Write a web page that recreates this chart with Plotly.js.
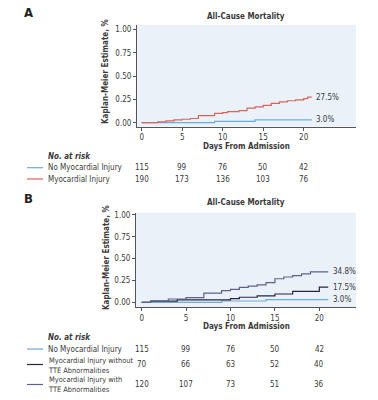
<!DOCTYPE html>
<html><head><meta charset="utf-8">
<script src="https://cdn.plot.ly/plotly-3.0.1.min.js"></script>
<style>html,body{margin:0;padding:0;background:#fff}#chart{width:378px;height:400px}</style>
</head><body><div id="chart"></div>
<script>
// Panel A
const aNoInjuryDays = [0, 9, 14, 21];
const aNoInjury = [0, 0.015, 0.03, 0.03];
const aInjuryDays = [0, 2, 3, 4, 5, 6, 7, 9, 10, 10.6, 12, 13, 14, 15, 16, 17, 18, 19, 20, 20.5, 21];
const aInjury = [0, 0.008, 0.02, 0.03, 0.037, 0.045, 0.075, 0.1, 0.108, 0.118, 0.13, 0.157, 0.17, 0.185, 0.207, 0.222, 0.235, 0.245, 0.258, 0.275, 0.275];
// Panel B
const bNoInjuryDays = [0, 9, 14, 21];
const bNoInjury = [0, 0.015, 0.03, 0.03];
const bWithoutTTEDays = [0, 1, 4, 10, 11, 13, 15, 17, 20, 21];
const bWithoutTTE = [0, 0.014, 0.028, 0.043, 0.058, 0.073, 0.095, 0.126, 0.175, 0.175];
const bWithTTEDays = [0, 1, 3, 5, 7, 9, 10, 11, 12, 13, 14, 15, 16, 17, 18, 19, 21];
const bWithTTE = [0, 0.015, 0.038, 0.053, 0.106, 0.133, 0.148, 0.172, 0.185, 0.2, 0.225, 0.27, 0.29, 0.305, 0.325, 0.348, 0.348];

const riskDays = [0, 5, 10, 15, 20];
const aRiskNoInjury = [115, 99, 76, 50, 42];
const aRiskInjury = [190, 173, 136, 103, 76];
const bRiskNoInjury = [115, 99, 76, 50, 42];
const bRiskWithout = [70, 66, 63, 52, 40];
const bRiskWith = [120, 107, 73, 51, 36];

const aEndLabels = ['27.5%', '3.0%'];
const bEndLabels = ['34.8%', '17.5%', '3.0%'];

const FONT = 'Liberation Sans Narrow, DejaVu Sans Condensed, Arial Narrow, sans-serif';
const TXT = '#3a3a3a';
const FS = 8;
const cLightBlue = '#6aaed6', cRed = '#d8655c', cNavy = '#24273f', cSlate = '#5e618a';

const W = 378, H = 400;
const px = v => v / W, py = v => 1 - v / H;

function step(x, y, color, xa, ya, name) {
  return {x: x, y: y, type: 'scatter', mode: 'lines', line: {shape: 'hv', color: color, width: 1.2},
          xaxis: xa, yaxis: ya, name: name, showlegend: false, hoverinfo: 'skip'};
}
const data = [
  step(aNoInjuryDays, aNoInjury, cLightBlue, 'x', 'y', 'No Myocardial Injury'),
  step(aInjuryDays, aInjury, cRed, 'x', 'y', 'Myocardial Injury'),
  step(bNoInjuryDays, bNoInjury, cLightBlue, 'x2', 'y2', 'No Myocardial Injury'),
  step(bWithoutTTEDays, bWithoutTTE, cNavy, 'x2', 'y2', 'Myocardial Injury without TTE Abnormalities'),
  step(bWithTTEDays, bWithTTE, cSlate, 'x2', 'y2', 'Myocardial Injury with TTE Abnormalities')
];

const ann = [];
function t(text, x, y, opts) {
  ann.push(Object.assign({text: text, x: px(x), y: py(y), xref: 'paper', yref: 'paper', showarrow: false,
    xanchor: 'center', yanchor: 'middle', font: {family: FONT, size: FS, color: TXT}}, opts || {}));
}
// Panel letters and titles
t('<b>A</b>', 28, 13, {font: {family: FONT, size: 13, color: '#222'}});
t('<b>B</b>', 28, 198, {font: {family: FONT, size: 13, color: '#222'}});
t('<b>All-Cause Mortality</b>', 246, 16);
t('<b>All-Cause Mortality</b>', 246, 202.7);
t('<b>Kaplan-Meier Estimate, %</b>', 106, 72, {textangle: -90});
t('<b>Kaplan-Meier Estimate, %</b>', 106, 258, {textangle: -90});
t('<b>Days From Admission</b>', 246, 146.7);
t('<b>Days From Admission</b>', 246, 326.7);
// Risk tables
t('<b><i>No. at risk</i></b>', 45.5, 156.7, {xanchor: 'left'});
t('No Myocardial Injury', 45.5, 167.7, {xanchor: 'left'});
t('Myocardial Injury', 45.5, 179, {xanchor: 'left'});
t('<b><i>No. at risk</i></b>', 45.5, 337, {xanchor: 'left'});
t('No Myocardial Injury', 45.5, 349, {xanchor: 'left'});
t('Myocardial Injury without<br>TTE Abnormalities', 45.5, 365, {xanchor: 'left', align: 'left', font: {family: FONT, size: 7.4, color: TXT}});
t('Myocardial Injury with<br>TTE Abnormalities', 45.5, 384.5, {xanchor: 'left', align: 'left', font: {family: FONT, size: 7.4, color: TXT}});

function riskRow(vals, xref, y) {
  vals.forEach((v, i) => ann.push({text: String(v), x: riskDays[i], xref: xref, y: py(y), yref: 'paper',
    showarrow: false, xanchor: 'center', yanchor: 'middle', font: {family: FONT, size: FS, color: TXT}}));
}
riskRow(aRiskNoInjury, 'x', 167.7);
riskRow(aRiskInjury, 'x', 179);
riskRow(bRiskNoInjury, 'x2', 349);
riskRow(bRiskWithout, 'x2', 364.5);
riskRow(bRiskWith, 'x2', 384.5);

// End labels
function endLabel(text, xref, yref, yv) {
  ann.push({text: text, x: 21.3, y: yv, xref: xref, yref: yref, showarrow: false, xanchor: 'left', yanchor: 'middle',
    font: {family: FONT, size: FS, color: TXT}});
}
endLabel(aEndLabels[0], 'x', 'y', aInjury[aInjury.length - 1]);
endLabel(aEndLabels[1], 'x', 'y', aNoInjury[aNoInjury.length - 1]);
endLabel(bEndLabels[0], 'x2', 'y2', bWithTTE[bWithTTE.length - 1]);
endLabel(bEndLabels[1], 'x2', 'y2', bWithoutTTE[bWithoutTTE.length - 1]);
endLabel(bEndLabels[2], 'x2', 'y2', bNoInjury[bNoInjury.length - 1]);

// Legend line keys
function key(color, y) {
  return {type: 'line', xref: 'paper', yref: 'paper', x0: px(27), x1: px(43), y0: py(y), y1: py(y),
    line: {color: color, width: 1.2}};
}
const shapes = [key(cLightBlue, 167.7), key(cRed, 179), key(cLightBlue, 349), key(cNavy, 364.5), key(cSlate, 384.5)];

const axBase = {showline: true, linecolor: '#555', linewidth: 1, ticks: 'outside', ticklen: 3, tickcolor: '#555',
  showgrid: false, zeroline: false, fixedrange: true, tickfont: {family: FONT, size: FS, color: TXT}};

const layout = {
  width: W, height: H, margin: {l: 0, r: 0, t: 0, b: 0},
  paper_bgcolor: '#ffffff', plot_bgcolor: '#eaf1f9', showlegend: false,
  xaxis: Object.assign({}, axBase, {domain: [px(137), px(356)], range: [-0.58, 26.46], tickvals: riskDays, anchor: 'y'}),
  yaxis: Object.assign({}, axBase, {domain: [py(126.7), py(25)], range: [-0.043, 1.047], tickvals: [0, 0.25, 0.5, 0.75, 1], tickformat: '.2f', anchor: 'x'}),
  xaxis2: Object.assign({}, axBase, {domain: [px(136), px(356)], range: [-0.64, 24.13], tickvals: riskDays, anchor: 'y2'}),
  yaxis2: Object.assign({}, axBase, {domain: [py(307.3), py(212.7)], range: [-0.057, 1.026], tickvals: [0, 0.25, 0.5, 0.75, 1], tickformat: '.2f', anchor: 'x2'}),
  annotations: ann, shapes: shapes
};
Plotly.newPlot('chart', data, layout, {staticPlot: true, displayModeBar: false});
</script>
</body></html>
